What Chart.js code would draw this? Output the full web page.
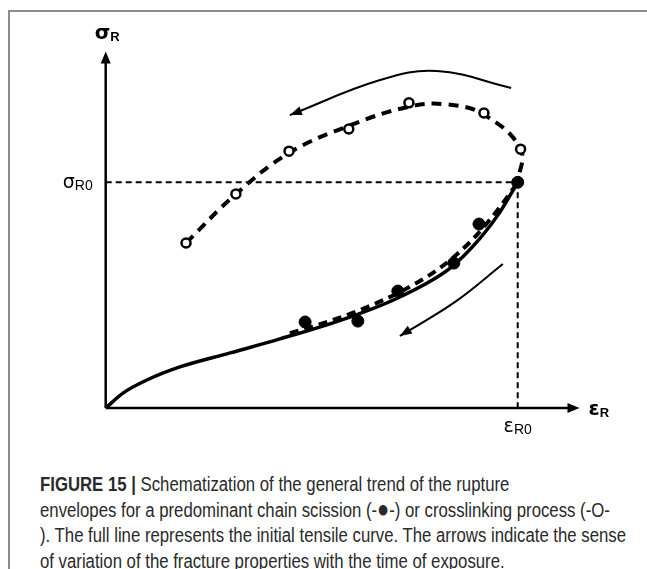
<!DOCTYPE html>
<html>
<head>
<meta charset="utf-8">
<script src="https://cdn.jsdelivr.net/npm/chart.js@4.4.0/dist/chart.umd.min.js"></script>
<style>
html, body { margin: 0; padding: 0; background: #fff; }
body { width: 647px; height: 569px; position: relative; overflow: hidden; }
.frame {
  position: absolute; left: 8px; top: 10px; right: 0; bottom: 0;
  border-left: 2px solid #8c8c8c; border-top: 2px solid #8c8c8c;
}
#chart { position: absolute; left: 0; top: 0; }
.caption {
  position: absolute; left: 40px; top: 472px;
  font-family: "Liberation Sans", Arial, sans-serif;
  font-size: 20px; line-height: 25.7px; color: #2a2a2a;
  transform-origin: 0 0; white-space: nowrap;
}
.caption b { font-weight: bold; }
.dot { font-size: 24px; line-height: 0; }
</style>
</head>
<body>
<div class="frame"></div>
<canvas id="chart" width="647" height="450"></canvas>
<div class="caption" id="caption">
  <div><b>FIGURE 15 |</b> Schematization of the general trend of the rupture</div>
  <div>envelopes for a predominant chain scission (-<span class="dot">&#9679;</span>-) or crosslinking process (-O-</div>
  <div id="longLine">). The full line represents the initial tensile curve. The arrows indicate the sense</div>
  <div>of variation of the fracture properties with the time of exposure.</div>
</div>
<script>
// ---------------- DATA (ε_R / ε_R0, σ_R / σ_R0) ----------------
// initial tensile curve (full line)
const initialX = [0, 0.042, 0.100, 0.180, 0.302, 0.423, 0.593, 0.714, 0.836, 0.909, 0.957, 1];
const initialY = [0, 0.066, 0.124, 0.182, 0.244, 0.306, 0.403, 0.492, 0.620, 0.753, 0.868, 1];

// chain scission envelope (dashed) and its points
const scissionX = [0.447, 0.515, 0.617, 0.714, 0.811, 0.889, 0.957, 1];
const scissionY = [0.332, 0.368, 0.434, 0.514, 0.620, 0.744, 0.891, 1];
const scissionPtsX = [0.484, 0.612, 0.709, 0.845, 0.906, 1];
const scissionPtsY = [0.381, 0.385, 0.518, 0.642, 0.815, 1];

// crosslinking envelope (dashed) and its points
const crossPtsX = [0.195, 0.316, 0.445, 0.590, 0.736, 0.918, 1.007];
const crossPtsY = [0.731, 0.948, 1.138, 1.236, 1.352, 1.307, 1.147];
const crossX = [0.195, 0.316, 0.445, 0.590, 0.736, 0.830, 0.918, 1.007, 1];
const crossY = [0.731, 0.948, 1.130, 1.250, 1.335, 1.345, 1.300, 1.147, 1];

// arrows showing the sense of variation with exposure time
const arrowTopX = [0.984, 0.804, 0.666, 0.447];
const arrowTopY = [1.418, 1.493, 1.453, 1.298];
const arrowBottomX = [0.964, 0.848, 0.714];
const arrowBottomY = [0.638, 0.470, 0.319];

// reference values and their tick labels
const xTicks = [1];
const xTickMain = ["ε"];
const xTickSub = ["R0"];
const yTicks = [1];
const yTickMain = ["σ"];
const yTickSub = ["R0"];

// axis titles
const xTitle = ["ε", "R"];
const yTitle = ["σ", "R"];
const xAxisEnd = 1.15;
const yAxisEnd = 1.58;

const pts = (xs, ys) => xs.map((x, i) => ({ x, y: ys[i] }));

// ---------------- PLUGIN: axes, arrowheads, labels ----------------
const decor = {
  id: "decor",
  afterDatasetsDraw(chart) {
    const ctx = chart.ctx;
    const sx = chart.scales.x, sy = chart.scales.y;
    const X = v => sx.getPixelForValue(v), Y = v => sy.getPixelForValue(v);

    const head = (tipX, tipY, fromX, fromY, len, wid) => {
      const a = Math.atan2(tipY - fromY, tipX - fromX);
      ctx.save();
      ctx.translate(tipX, tipY);
      ctx.rotate(a);
      ctx.beginPath();
      ctx.moveTo(0, 0);
      ctx.lineTo(-len, -wid / 2);
      ctx.lineTo(-len, wid / 2);
      ctx.closePath();
      ctx.fillStyle = "#000";
      ctx.fill();
      ctx.restore();
    };

    // axes
    ctx.save();
    ctx.strokeStyle = "#000";
    ctx.lineWidth = 2.5;
    ctx.beginPath();
    ctx.moveTo(X(0), Y(0));
    ctx.lineTo(X(xAxisEnd) - 8, Y(0));
    ctx.moveTo(X(0), Y(0));
    ctx.lineTo(X(0), Y(yAxisEnd) + 8);
    ctx.stroke();
    ctx.restore();
    head(X(xAxisEnd), Y(0), X(0), Y(0), 12, 10);
    head(X(0), Y(yAxisEnd), X(0), Y(0), 12, 10);

    // arrowheads of the time arrows
    [[arrowTopX, arrowTopY], [arrowBottomX, arrowBottomY]].forEach(([ax, ay]) => {
      const n = ax.length - 1;
      const tx = X(ax[n]), ty = Y(ay[n]);
      const fx = X(ax[n] + (ax[n - 1] - ax[n]) * 0.25), fy = Y(ay[n] + (ay[n - 1] - ay[n]) * 0.25);
      head(tx, ty, fx, fy, 12, 9);
    });

    // labels
    const label = (main, sub, x, y, big, small, weight, align) => {
      ctx.save();
      ctx.fillStyle = "#000";
      ctx.textBaseline = "alphabetic";
      ctx.font = `${weight} ${big}px "DejaVu Sans", sans-serif`;
      const w1 = ctx.measureText(main).width;
      ctx.font = `${weight} ${small}px "Liberation Sans", sans-serif`;
      const w2 = ctx.measureText(sub).width;
      let x0 = x;
      if (align === "right") x0 = x - w1 - w2;
      if (align === "center") x0 = x - (w1 + w2) / 2;
      ctx.font = `${weight} ${big}px "DejaVu Sans", sans-serif`;
      ctx.fillText(main, x0, y);
      ctx.font = `${weight} ${small}px "Liberation Sans", sans-serif`;
      ctx.fillText(sub, x0 + w1, y + 2);
      ctx.restore();
    };
    xTicks.forEach((v, i) => label(xTickMain[i], xTickSub[i], X(v), Y(0) + 24, 19, 14, "normal", "center"));
    yTicks.forEach((v, i) => label(yTickMain[i], yTickSub[i], X(0) - 13, Y(v) + 6, 19, 14, "normal", "right"));
    label(xTitle[0], xTitle[1], X(xAxisEnd) + 9, Y(0) + 7, 20, 13, "bold", "left");
    label(yTitle[0], yTitle[1], X(0) - 11, Y(yAxisEnd) - 12, 20, 13, "bold", "left");
  }
};

// ---------------- CHART ----------------
const ctx = document.getElementById("chart").getContext("2d");
new Chart(ctx, {
  type: "scatter",
  data: {
    datasets: [
      {
        data: pts(scissionPtsX, scissionPtsY),
        showLine: false,
        pointRadius: 6,
        pointBackgroundColor: "#000",
        pointBorderColor: "#000",
        pointBorderWidth: 1
      },
      {
        data: pts(crossPtsX, crossPtsY),
        showLine: false,
        pointRadius: 4.5,
        pointBackgroundColor: "#fff",
        pointBorderColor: "#000",
        pointBorderWidth: 2.5
      },
      {
        data: pts(scissionX, scissionY),
        showLine: true,
        borderColor: "#000",
        borderWidth: 4,
        borderDash: [9, 6],
        pointRadius: 0,
        cubicInterpolationMode: "monotone"
      },
      {
        data: pts(crossX, crossY),
        showLine: true,
        borderColor: "#000",
        borderWidth: 4,
        borderDash: [10, 7],
        pointRadius: 0,
        tension: 0.4
      },
      {
        data: pts(initialX, initialY),
        showLine: true,
        borderColor: "#000",
        borderWidth: 3.5,
        pointRadius: 0,
        cubicInterpolationMode: "monotone"
      },
      {
        data: pts(arrowTopX, arrowTopY),
        showLine: true,
        borderColor: "#000",
        borderWidth: 2,
        pointRadius: 0,
        tension: 0.4
      },
      {
        data: pts(arrowBottomX, arrowBottomY),
        showLine: true,
        borderColor: "#000",
        borderWidth: 2,
        pointRadius: 0,
        tension: 0.4
      },
      {
        data: pts([0, xTicks[0]], [yTicks[0], yTicks[0]]),
        showLine: true,
        borderColor: "#000",
        borderWidth: 2,
        borderDash: [6, 4],
        pointRadius: 0
      },
      {
        data: pts([xTicks[0], xTicks[0]], [yTicks[0], 0]),
        showLine: true,
        borderColor: "#000",
        borderWidth: 2,
        borderDash: [6, 4],
        pointRadius: 0
      }
    ]
  },
  options: {
    responsive: false,
    animation: false,
    clip: false,
    layout: { padding: { left: 105.7, right: 46.9, top: 46.9, bottom: 42 } },
    plugins: { legend: { display: false }, tooltip: { enabled: false } },
    scales: {
      x: { type: "linear", min: 0, max: 1.2, display: false },
      y: { type: "linear", min: 0, max: 1.6, display: false }
    }
  },
  plugins: [decor]
});

// squeeze the caption to the column width of the reference
const cap = document.getElementById("caption");
const w = document.getElementById("longLine").getBoundingClientRect().width;
cap.style.transform = `scaleX(${586 / w})`;
</script>
</body>
</html>
